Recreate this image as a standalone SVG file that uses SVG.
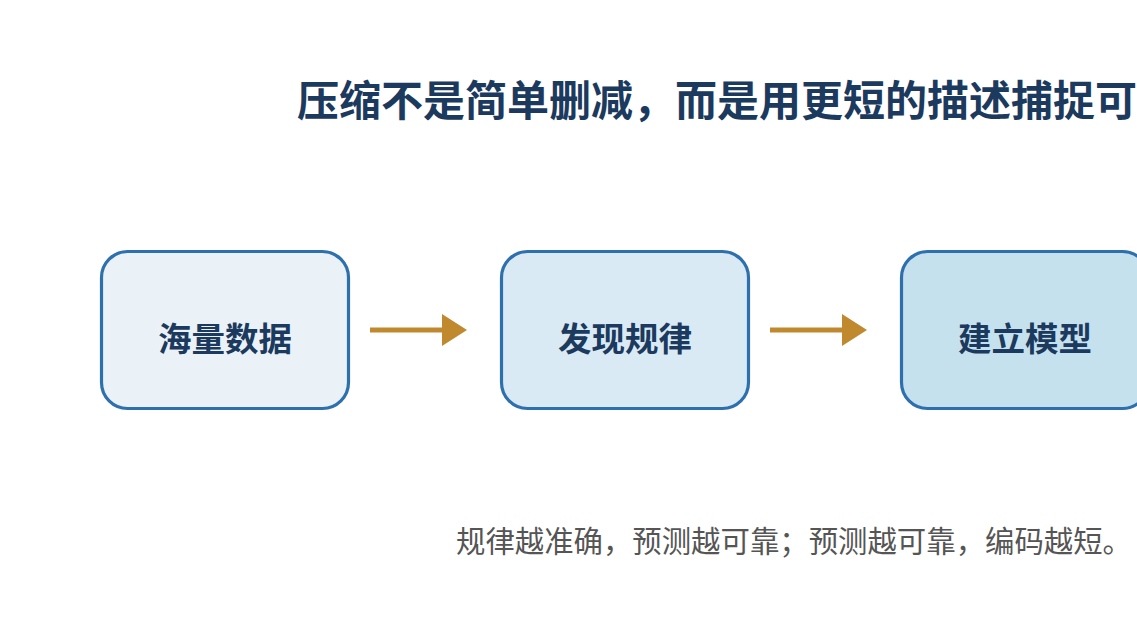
<svg xmlns="http://www.w3.org/2000/svg" width="1137" height="640" viewBox="0 0 1137 640">
<defs>
<style>
.node rect{stroke:#2e6fad;stroke-width:3.2}
.node text{font-family:"Liberation Sans","Noto Sans CJK SC",sans-serif;font-weight:bold;font-size:33.5px;fill:#1b3a5e;text-anchor:middle}
.title{font-family:"Liberation Sans","Noto Sans CJK SC",sans-serif;font-weight:bold;font-size:42px;fill:#1b3a5e}
.note{font-family:"Liberation Sans","Noto Sans CJK SC",sans-serif;font-size:29.4px;fill:#555555}
.conn line{stroke:#c0892e;stroke-width:5}
</style>
<marker id="ah" viewBox="0 0 25 32" refX="0" refY="16" markerWidth="25" markerHeight="32" markerUnits="userSpaceOnUse" orient="auto">
<path d="M0,0 L25,16 L0,32 Z" fill="#c0892e"/>
</marker>
</defs>
<rect width="1137" height="640" fill="#ffffff"/>
<text class="title" x="297" y="116">压缩不是简单删减，而是用更短的描述捕捉可</text>
<g id="n1" class="node"><rect x="101.5" y="251.5" width="247" height="157" rx="26" fill="#eaf2f8"/><text x="225" y="351">海量数据</text></g>
<g id="n2" class="node"><rect x="501.5" y="251.5" width="247" height="157" rx="26" fill="#d9eaf5"/><text x="625" y="351">发现规律</text></g>
<g id="n3" class="node"><rect x="901.5" y="251.5" width="247" height="157" rx="26" fill="#c6e1ee"/><text x="1025" y="351">建立模型</text></g>
<g id="connectors" class="conn">
<line x1="370" y1="330" x2="442" y2="330" marker-end="url(#ah)"/>
<line x1="770" y1="330" x2="842" y2="330" marker-end="url(#ah)"/>
</g>
<text class="note" x="456" y="552">规律越准确，预测越可靠；预测越可靠，编码越短。</text>
</svg>
